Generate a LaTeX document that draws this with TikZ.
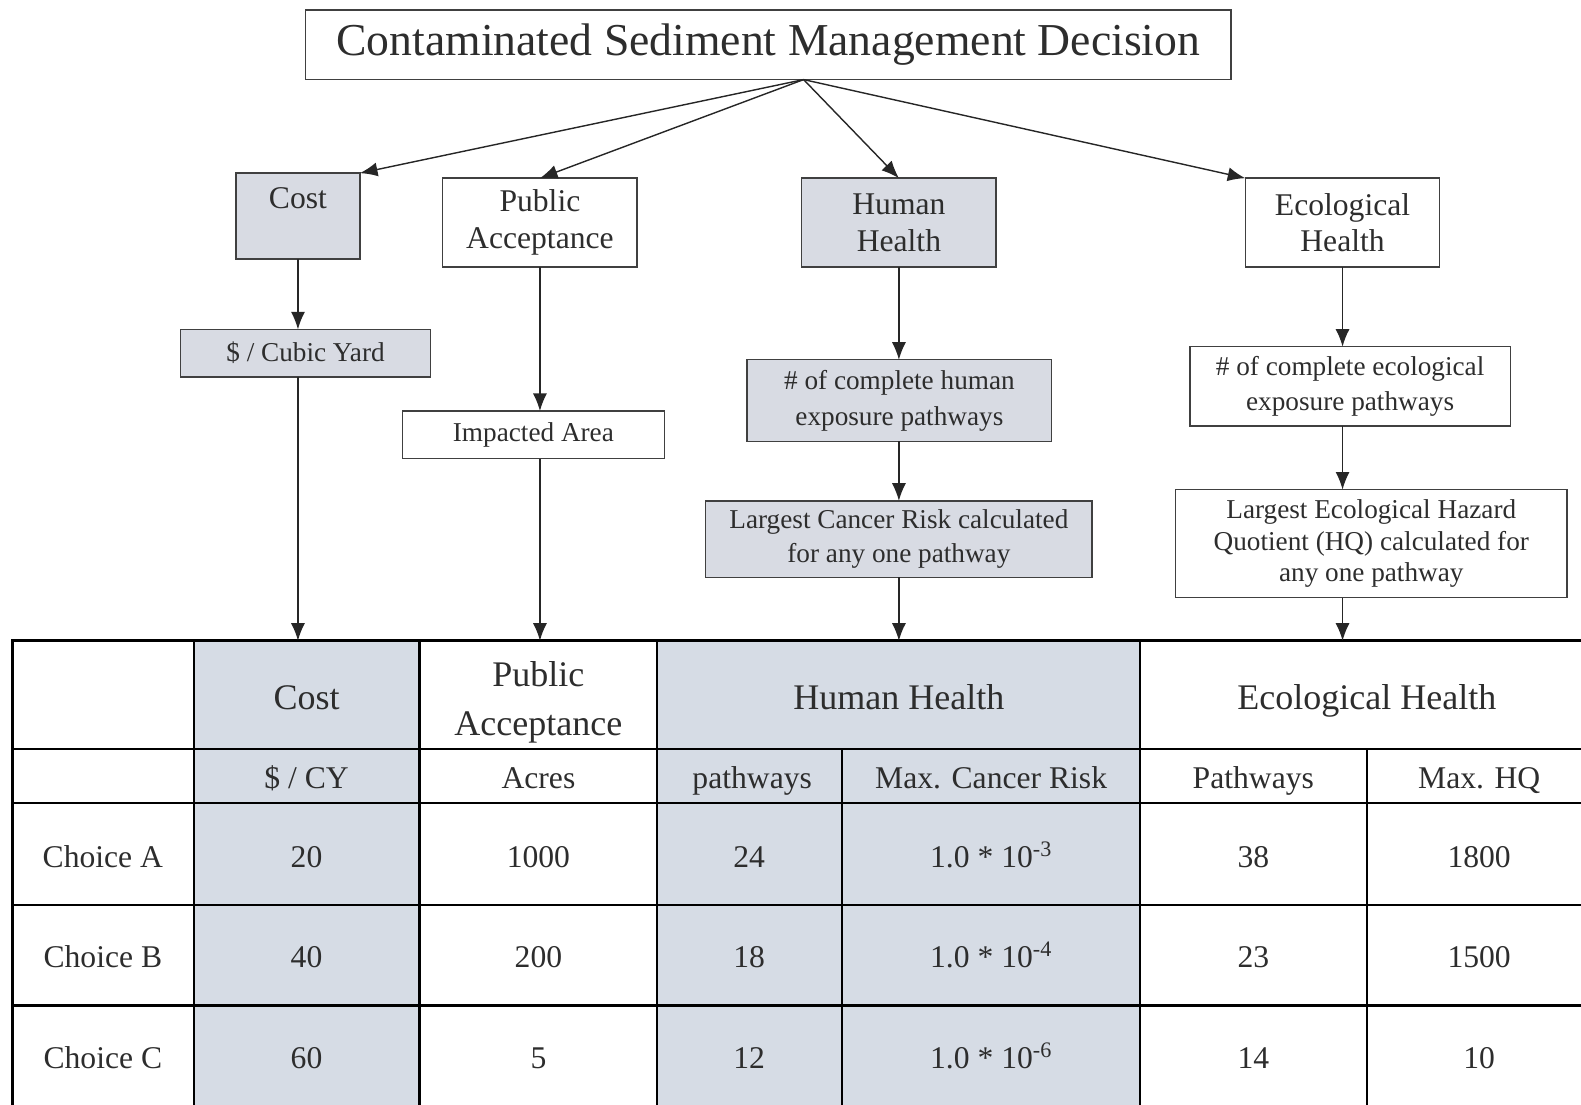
\documentclass[tikz,border=0pt]{standalone}
\usepackage{fontspec}
\setmainfont{Liberation Serif}
\usetikzlibrary{calc,arrows.meta}
\definecolor{boxfill}{RGB}{216,219,227}
\definecolor{cellfill}{RGB}{214,220,229}
\definecolor{inkgray}{RGB}{45,45,45}
\begin{document}
\begin{tikzpicture}[x=0.02017cm,y=-0.02016cm]
\tikzstyle{crit}=[draw=black!75, line width=0.8pt, inner sep=2pt, outer sep=0pt, align=center, text=inkgray, font=\fontsize{18}{21}\selectfont]
\tikzstyle{measure}=[crit, font=\fontsize{15.5}{19}\selectfont]
\tikzstyle{shaded}=[fill=boxfill]
\tikzstyle{line}=[draw, -{Latex[length=10pt,width=8pt]}, line width=0.8pt, black!85]
\tikzstyle{head}=[text=inkgray, align=center, inner sep=0pt, outer sep=0pt, font=\fontsize{20.5}{28}\selectfont]
\tikzstyle{onehead}=[head, text height=20pt, text depth=3.7pt]
\tikzstyle{cell}=[text=inkgray, inner sep=0pt, text height=17pt, text depth=2.5pt, font=\fontsize{18}{21}\selectfont]
\tikzstyle{grid}=[line width=1.2pt]

\useasboundingbox (0,0) rectangle (1568,1096);

% Decision and criteria
\node[crit, minimum width=18.52cm, minimum height=1.39cm, font=\fontsize{26}{30}\selectfont] (decision) at (762,44.5) {Contaminated Sediment Management Decision};
\node[crit, shaded, minimum width=2.48cm, minimum height=1.72cm] (cost) at (295.5,214.5) {Cost\\~};
\node[crit, minimum width=3.89cm, minimum height=1.78cm] (public) at (535.5,221) {Public\\Acceptance};
\node[crit, shaded, minimum width=3.89cm, minimum height=1.78cm] (human) at (891.5,221) {Human\\Health};
\node[crit, minimum width=3.89cm, minimum height=1.78cm] (eco) at (1331.5,221) {Ecological\\Health};

% Measures
\node[measure, shaded, minimum width=5.0cm, minimum height=0.95cm] (dollar) at (303,350.5) {\$ / Cubic Yard};
\node[measure, minimum width=5.24cm, minimum height=0.95cm] (area) at (529,431.5) {Impacted Area};
\node[measure, shaded, minimum width=6.09cm, minimum height=1.63cm, font=\fontsize{15.5}{20.5}\selectfont] (hpath) at (892,397.5) {\# of complete human\\exposure pathways};
\node[measure, shaded, minimum width=7.73cm, minimum height=1.53cm] (hrisk) at (891.5,535) {Largest Cancer Risk calculated\\for any one pathway};
\node[measure, minimum width=6.41cm, minimum height=1.59cm, font=\fontsize{15.5}{20}\selectfont] (epath) at (1339,383.5) {\# of complete ecological\\exposure pathways};
\node[measure, minimum width=7.83cm, minimum height=2.16cm, font=\fontsize{15.5}{18}\selectfont] (erisk) at (1360,539.5) {Largest Ecological Hazard\\Quotient (HQ) calculated for\\any one pathway};

% Table background and grid
\fill[cellfill] (192,636) rectangle (416,1100);
\fill[cellfill] (652,636) rectangle (1131,1100);
\draw[grid] (12,743) -- (1580,743);
\draw[grid] (12,797) -- (1580,797);
\draw[grid] (12,898) -- (1580,898);
\draw[grid] (12,998) -- (1580,998);
\draw[grid] (192,636) -- (192,1100);
\draw[grid] (416,636) -- (416,1100);
\draw[grid] (652,636) -- (652,1100);
\draw[grid] (1131,636) -- (1131,1100);
\draw[grid] (835,743) -- (835,1100);
\draw[grid] (1356,743) -- (1356,1100);
\draw[line width=1.8pt] (12,636) rectangle (1580,1100);

% Table headers
\node[onehead, minimum width=4.52cm, minimum height=2.16cm] (tcost) at (304,689.5) {Cost};
\node[head, minimum width=4.76cm] (tpub) at (534,697) {Public\\Acceptance};
\node[onehead, minimum width=9.66cm, minimum height=2.16cm] (thum) at (891.5,689.5) {Human Health};
\node[onehead, minimum width=9.09cm, minimum height=2.16cm] (teco) at (1355.5,689.5) {Ecological Health};
\node[cell] (ucost) at (304,770) {\$ / CY};
\node[cell] (upub) at (534,770) {Acres};
\node[cell] (uhpath) at (746,770) {pathways};
\node[cell] (uhrisk) at (983,770) {Max. Cancer Risk};
\node[cell] (uepath) at (1243,770) {Pathways};
\node[cell] (uerisk) at (1467,770) {Max. HQ};

% Choices
\node[cell] (a0) at (102,848) {Choice A};
\node[cell] (a1) at (304,848) {20};
\node[cell] (a2) at (534,848) {1000};
\node[cell] (a3) at (743,848) {24};
\node[cell] (a4) at (983,848) {1.0 * 10\textsuperscript{-3}};
\node[cell] (a5) at (1243,848) {38};
\node[cell] (a6) at (1467,848) {1800};

\node[cell] (b0) at (102,948) {Choice B};
\node[cell] (b1) at (304,948) {40};
\node[cell] (b2) at (534,948) {200};
\node[cell] (b3) at (743,948) {18};
\node[cell] (b4) at (983,948) {1.0 * 10\textsuperscript{-4}};
\node[cell] (b5) at (1243,948) {23};
\node[cell] (b6) at (1467,948) {1500};

\node[cell] (c0) at (102,1048) {Choice C};
\node[cell] (c1) at (304,1048) {60};
\node[cell] (c2) at (534,1048) {5};
\node[cell] (c3) at (743,1048) {12};
\node[cell] (c4) at (983,1048) {1.0 * 10\textsuperscript{-6}};
\node[cell] (c5) at (1243,1048) {14};
\node[cell] (c6) at (1467,1048) {10};

% Arrows
\coordinate (fork) at ($(decision.south)+(35,0)$);
\draw[line] (fork) -- (cost.north east);
\draw[line] (fork) -- (public.north);
\draw[line] (fork) -- (human.north);
\draw[line] (fork) -- (eco.north west);

\draw[line] (cost.south) -- (cost.south |- dollar.north);
\draw[line] (dollar.south -| cost.south) -- (cost.south |- tcost.north);
\draw[line] (public.south) -- (public.south |- area.north);
\draw[line] (area.south -| public.south) -- (public.south |- tcost.north);
\draw[line] (human.south) -- (human.south |- hpath.north);
\draw[line] (hpath.south -| human.south) -- (human.south |- hrisk.north);
\draw[line] (hrisk.south -| human.south) -- (human.south |- thum.north);
\draw[line] (eco.south) -- (eco.south |- epath.north);
\draw[line] (epath.south -| eco.south) -- (eco.south |- erisk.north);
\draw[line] (erisk.south -| eco.south) -- (eco.south |- teco.north);
\end{tikzpicture}
\end{document}
